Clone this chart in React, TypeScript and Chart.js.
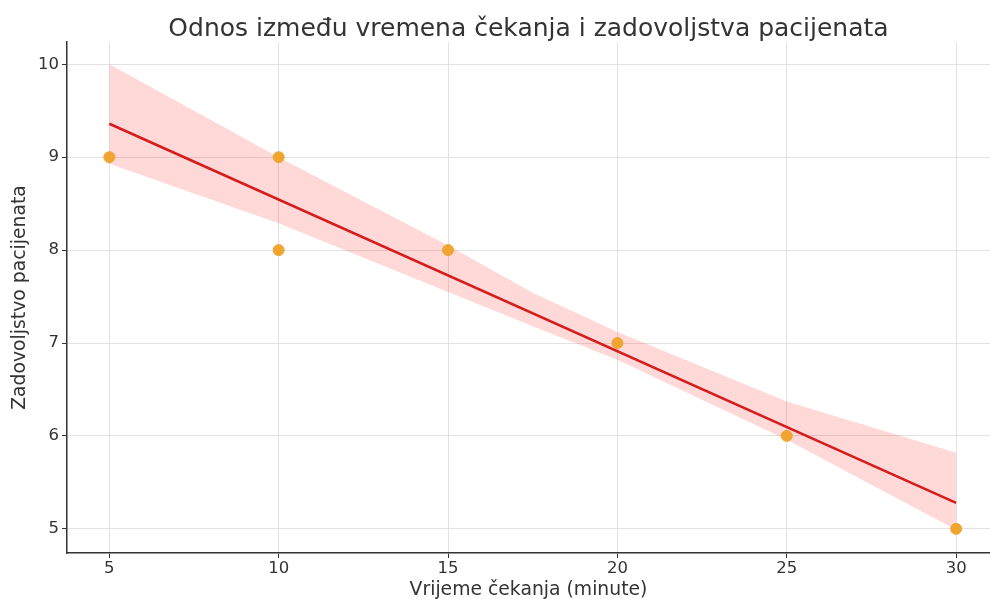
import React, { useEffect, useRef } from "react";
import { Chart, registerables } from "chart.js";

Chart.register(...registerables);

const TITLE = "Odnos između vremena čekanja i zadovoljstva pacijenata";
const X_LABEL = "Vrijeme čekanja (minute)";
const Y_LABEL = "Zadovoljstvo pacijenata";

const waitTimes = [5, 10, 10, 15, 20, 25, 30];
const satisfaction = [9, 9, 8, 8, 7, 6, 5];

const fitX = [5, 30];
const fitY = [9.36, 5.28];

const bandX = [5, 10, 15, 17.5, 20, 25, 30];
const bandUpper = [10.0, 9.0, 8.05, 7.54, 7.12, 6.37, 5.82];
const bandLower = [8.93, 8.29, 7.55, 7.18, 6.82, 5.96, 4.99];

const xTicks = [5, 10, 15, 20, 25, 30];
const yTicks = [5, 6, 7, 8, 9, 10];

const FONT = "'DejaVu Sans', sans-serif";

export default function App() {
  const ref = useRef<HTMLCanvasElement | null>(null);

  useEffect(() => {
    if (!ref.current) return;
    const toPts = (xs: number[], ys: number[]) => xs.map((x, i) => ({ x, y: ys[i] }));
    const chart = new Chart(ref.current, {
      type: "scatter",
      data: {
        datasets: [
          {
            type: "line",
            label: "lower",
            data: toPts(bandX, bandLower),
            borderWidth: 0,
            borderColor: "rgba(0,0,0,0)",
            pointRadius: 0,
            fill: false,
            order: 3,
          } as any,
          {
            type: "line",
            label: "upper",
            data: toPts(bandX, bandUpper),
            borderWidth: 0,
            borderColor: "rgba(0,0,0,0)",
            backgroundColor: "rgba(255, 40, 40, 0.18)",
            pointRadius: 0,
            fill: "-1",
            order: 3,
          } as any,
          {
            type: "line",
            label: "fit",
            data: toPts(fitX, fitY),
            borderColor: "#d61c1c",
            borderWidth: 2.5,
            pointRadius: 0,
            fill: false,
            order: 2,
          } as any,
          {
            type: "scatter",
            label: "data",
            data: toPts(waitTimes, satisfaction),
            backgroundColor: "#f0a530",
            borderColor: "#f0a530",
            pointRadius: 5.5,
            order: 1,
          } as any,
        ],
      },
      options: {
        responsive: true,
        maintainAspectRatio: false,
        animation: false,
        layout: { padding: 0, autoPadding: false },
        plugins: {
          legend: { display: false },
          tooltip: { enabled: false },
          title: {
            display: true,
            fullSize: false,
            text: TITLE,
            color: "#333333",
            font: { family: FONT, size: 25, weight: "normal" },
            padding: { top: 14, bottom: -2 },
          },
        },
        scales: {
          x: {
            type: "linear",
            min: 3.75,
            max: 31.0,
            afterFit: (s: any) => {
              s.height = 46;
              s.paddingLeft = 0;
              s.paddingRight = 0;
            },
            afterBuildTicks: (s: any) => {
              s.ticks = xTicks.map((v) => ({ value: v }));
            },
            border: { display: true, color: "#333333", width: 1.5 },
            grid: {
              color: "#e2e2e2",
              lineWidth: 1,
              borderDash: [4, 2],
              drawTicks: true,
              tickLength: 5,
              tickColor: "#333333",
              tickBorderDash: [],
            } as any,
            ticks: {
              color: "#333333",
              font: { family: FONT, size: 16.5 },
              padding: 1,
            },
            title: {
              display: true,
              text: X_LABEL,
              color: "#333333",
              font: { family: FONT, size: 18.8 },
              padding: { top: 0, bottom: -2 },
            },
          },
          y: {
            type: "linear",
            min: 4.74,
            max: 10.24,
            afterFit: (s: any) => {
              s.width = 67;
              s.paddingTop = 0;
              s.paddingBottom = 0;
            },
            afterBuildTicks: (s: any) => {
              s.ticks = yTicks.map((v) => ({ value: v }));
            },
            border: { display: true, color: "#333333", width: 1.5 },
            grid: {
              color: "#e2e2e2",
              lineWidth: 1,
              borderDash: [4, 2],
              drawTicks: true,
              tickLength: 5,
              tickColor: "#333333",
              tickBorderDash: [],
            } as any,
            ticks: {
              color: "#333333",
              font: { family: FONT, size: 16.5 },
              padding: 3,
            },
            title: {
              display: true,
              text: Y_LABEL,
              color: "#333333",
              font: { family: FONT, size: 18.8 },
              padding: { top: 9, bottom: 0 },
            },
          },
        },
      } as any,
    });
    return () => chart.destroy();
  }, []);

  return (
    <div style={{ position: "fixed", left: 0, top: 0, width: 990, height: 599, background: "#ffffff" }}>
      <canvas ref={ref} />
    </div>
  );
}
